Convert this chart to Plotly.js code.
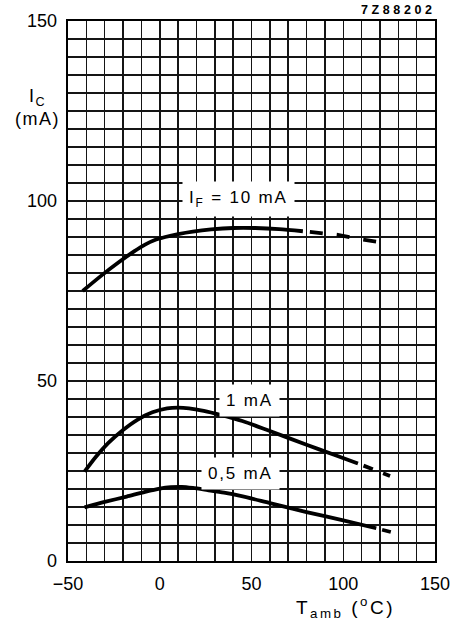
<!DOCTYPE html>
<html>
<head>
<meta charset="utf-8">
<script src="https://cdn.plot.ly/plotly-3.0.1.min.js"></script>
<style>html,body{margin:0;padding:0;background:#fff}#chart{width:462px;height:624px}</style>
</head>
<body>
<div id="chart"></div>
<script>
// Tick values and labels
const xTickVals = [-50, 0, 50, 100, 150];
const xTickText = ['\u221250', '0', '50', '100', '150'];
const yTickVals = [0, 50, 100, 150];
const yTickText = ['0', '50', '100', '150'];

// I_F = 10 mA
const if10SolidT = [-42, -32, -22, -14, -8, -3, 3, 10, 18, 28, 40, 52, 65, 78];
const if10SolidIc = [75, 79.2, 83.1, 86.0, 87.9, 89.1, 90.0, 90.8, 91.5, 92.1, 92.5, 92.5, 92.2, 91.6];
const if10DashT = [78, 85, 97, 109, 124];
const if10DashIc = [91.6, 91.2, 90.6, 89.4, 88.2];

// I_F = 1 mA
const if1SolidT = [-41, -35, -28, -20, -12, -4, 4, 10, 16, 24, 33, 45, 60, 80, 95, 108];
const if1SolidIc = [24.8, 28.8, 32.8, 36.4, 39.3, 41.3, 42.4, 42.6, 42.4, 41.7, 40.6, 38.9, 36.1, 32.3, 29.5, 27.1];
const if1DashT = [108, 125.5];
const if1DashIc = [27.1, 23.6];

// I_F = 0.5 mA
const if05SolidT = [-41, -30, -18, -8, 0, 6, 12, 18, 26, 35, 44, 60, 80, 100, 118];
const if05SolidIc = [14.9, 16.4, 17.9, 19.2, 20.1, 20.5, 20.6, 20.3, 19.7, 19.0, 18.1, 16.1, 13.6, 11.3, 9.1];
const if05DashT = [118, 126.4];
const if05DashIc = [9.1, 8.0];

// Curve labels
const labelTexts = ['I<sub>F</sub> = 10 mA', '1 mA', '0,5 mA'];
const labelT = [43, 49, 44];
const labelIc = [100.6, 44.6, 24.2];

const FONT = 'Liberation Sans, Arial, sans-serif';
const ink = '#000';

function spaced(t, px) {
  return '<span style="letter-spacing:' + px + 'px">' + t + '</span>';
}
function solid(x, y) {
  return {x: x, y: y, type: 'scatter', mode: 'lines', hoverinfo: 'skip',
    line: {color: ink, width: 3.8, shape: 'spline', smoothing: 0.7}};
}
function dashed(x, y, pattern) {
  return {x: x, y: y, type: 'scatter', mode: 'lines', hoverinfo: 'skip',
    line: {color: ink, width: 3.8, dash: pattern}};
}

const data = [
  solid(if10SolidT, if10SolidIc), dashed(if10DashT, if10DashIc, '0px,7px,13px,7px'),
  solid(if1SolidT, if1SolidIc), dashed(if1DashT, if1DashIc, '0px,6px,10px,5px'),
  solid(if05SolidT, if05SolidIc), dashed(if05DashT, if05DashIc, '0px,6px,9px,5px')
];

const gridCol = '#151515';
const annotations = labelTexts.map((t, i) => ({
  x: labelT[i], y: labelIc[i], xref: 'x', yref: 'y', text: spaced(t, 1.8), showarrow: false,
  bgcolor: '#fff', borderpad: 6, font: {family: FONT, size: 17, color: ink}
}));
annotations.push({
  xref: 'paper', yref: 'paper', x: -0.084, y: 0.84, xanchor: 'center', yanchor: 'middle',
  text: spaced('I<sub>C</sub><br>(mA)', 1.5), showarrow: false, align: 'center',
  font: {family: FONT, size: 18, color: ink}
});
annotations.push({
  xref: 'paper', yref: 'paper', x: 0.757, y: -0.087, xanchor: 'center', yanchor: 'middle',
  text: spaced('T<sub>amb</sub> (<sup>o</sup>C)', 2.5), showarrow: false,
  font: {family: FONT, size: 19, color: ink}
});
annotations.push({
  xref: 'paper', yref: 'paper', x: 1.008, y: 1.02, xanchor: 'right', yanchor: 'middle',
  text: spaced('7Z88202', 3.6), showarrow: false,
  font: {family: FONT, size: 12.5, color: ink, weight: 'bold'}
});

const layout = {
  width: 462, height: 624,
  margin: {l: 68, r: 27, t: 21, b: 63, pad: 0},
  paper_bgcolor: '#fff', plot_bgcolor: '#fff',
  showlegend: false,
  xaxis: {
    range: [-50, 150], tickmode: 'array', tickvals: xTickVals, ticktext: xTickText,
    showgrid: true, gridcolor: gridCol, gridwidth: 1.5,
    minor: {tickmode: 'linear', tick0: -50, dtick: 10, showgrid: true, gridcolor: gridCol, gridwidth: 1.5},
    zeroline: false, showline: true, mirror: true, linecolor: ink, linewidth: 2.4,
    ticks: '', ticklabelstandoff: 5, tickfont: {family: FONT, size: 18, color: ink}, fixedrange: true
  },
  yaxis: {
    range: [0, 150], tickmode: 'array', tickvals: yTickVals, ticktext: yTickText,
    showgrid: true, gridcolor: gridCol, gridwidth: 1.5,
    minor: {tickmode: 'linear', tick0: 0, dtick: 5, showgrid: true, gridcolor: gridCol, gridwidth: 1.5},
    zeroline: false, showline: true, mirror: true, linecolor: ink, linewidth: 2.4,
    ticks: '', ticklabelstandoff: 5, tickfont: {family: FONT, size: 18, color: ink}, fixedrange: true
  },
  annotations: annotations
};

Plotly.newPlot('chart', data, layout, {displayModeBar: false, staticPlot: true});
</script>
</body>
</html>
